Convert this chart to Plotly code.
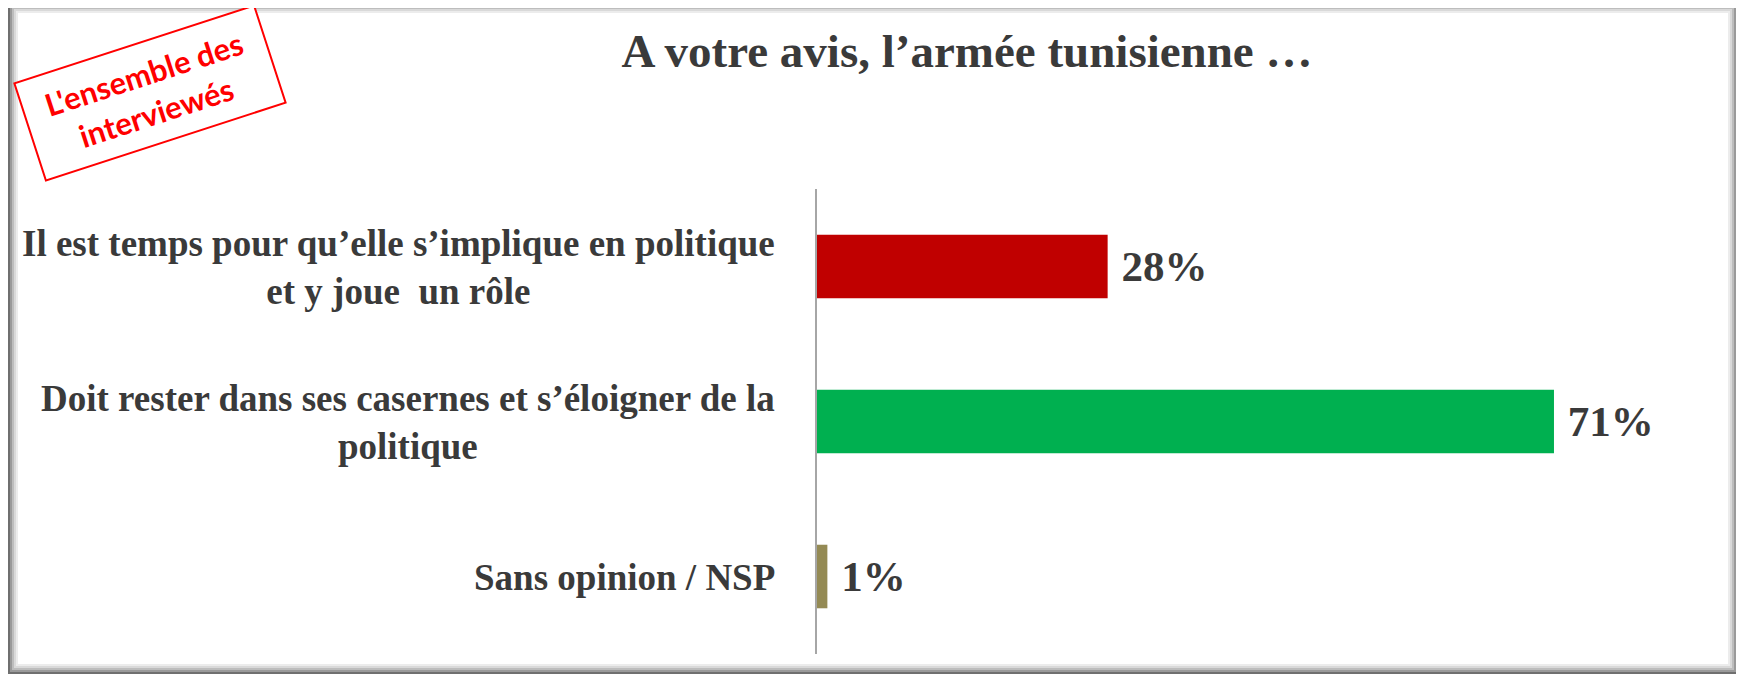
import plotly.graph_objects as go

# data
categories = [
    "Il est temps pour qu\u2019elle s\u2019implique en politique<br>et y joue  un r\u00f4le",
    "Doit rester dans ses casernes et s\u2019\u00e9loigner de la<br>politique",
    "Sans opinion / NSP",
]
values = [28, 71, 1]
bar_colors = ["#C00000", "#00B050", "#948A54"]
title_text = "A votre avis, l\u2019arm\u00e9e tunisienne \u2026"
stamp_text = "L'ensemble des<br>interview\u00e9s"

# the page body has an 8px margin, so the figure is shrunk by that much
OFF = 8
W, H = 1744 - OFF, 677 - OFF
ML, MR, MT, MB = 817 - OFF, 84, 189 - OFF, 23
PW = W - ML - MR
PH = H - MT - MB


def px_x(p):
    return (p - OFF - ML) / PW


def px_y(p):
    return (H - MB - (p - OFF)) / PH


keys = ["c0", "c1", "c2"]

fig = go.Figure()
fig.add_trace(go.Bar(
    x=values,
    y=keys,
    orientation="h",
    marker=dict(color=bar_colors, line=dict(width=0)),
    width=0.41,
    text=[f"<b> {v}%</b>" for v in values],
    textposition="outside",
    textfont=dict(family="Liberation Serif", size=43, color="#3A3A3A"),
    cliponaxis=False,
    hoverinfo="skip",
))

# category labels, lines centred, block right-aligned
for k, lab in zip(keys, categories):
    fig.add_annotation(
        x=0, y=k, xref="x", yref="y",
        text=f"<b>{lab}</b>", showarrow=False,
        xanchor="right", yanchor="middle", align="center",
        xshift=-40, yshift=-1,
        font=dict(family="Liberation Serif", size=37, color="#3A3A3A"),
    )

# red stamp
fig.add_annotation(
    x=px_x(150), y=px_y(93), xref="paper", yref="paper",
    text=f"<b>{stamp_text}</b>", showarrow=False,
    xanchor="center", yanchor="middle", align="center",
    textangle=-18,
    font=dict(family="Lato", size=31, color="#FF0000"),
    bordercolor="#FF0000", borderwidth=2, borderpad=3,
    bgcolor="white", width=244, height=94,
)

# framed border with shadow
shades = ["#6f6f6f", "#9a9a9a", "#bdbdbd", "#d9d9d9", "#ececec"]
for i, c in enumerate(shades):
    o = 2 * i
    fig.add_shape(
        type="rect", xref="paper", yref="paper",
        x0=px_x(9 + o), x1=px_x(1737 - o),
        y0=px_y(673 - o), y1=px_y(4 + o),
        line=dict(color=c, width=2), layer="below",
    )

fig.update_layout(
    width=W, height=H,
    margin=dict(l=ML, r=MR, t=MT, b=MB),
    paper_bgcolor="white", plot_bgcolor="white",
    showlegend=False,
    bargap=0.59,
    title=dict(
        text=f"<b>{title_text}</b>",
        x=(967 - OFF) / W, xanchor="center",
        y=1 - (51 - OFF) / H, yanchor="middle", yref="container",
        font=dict(family="Liberation Serif", size=47, color="#3A3A3A"),
    ),
    xaxis=dict(range=[0, PW / 10.38], visible=False, fixedrange=True),
    yaxis=dict(
        categoryorder="array", categoryarray=keys, autorange="reversed",
        showticklabels=False, showgrid=False, zeroline=False,
        showline=True, linecolor="#A6A6A6", linewidth=1.5, ticks="",
    ),
)

fig.write_html("out.html")
